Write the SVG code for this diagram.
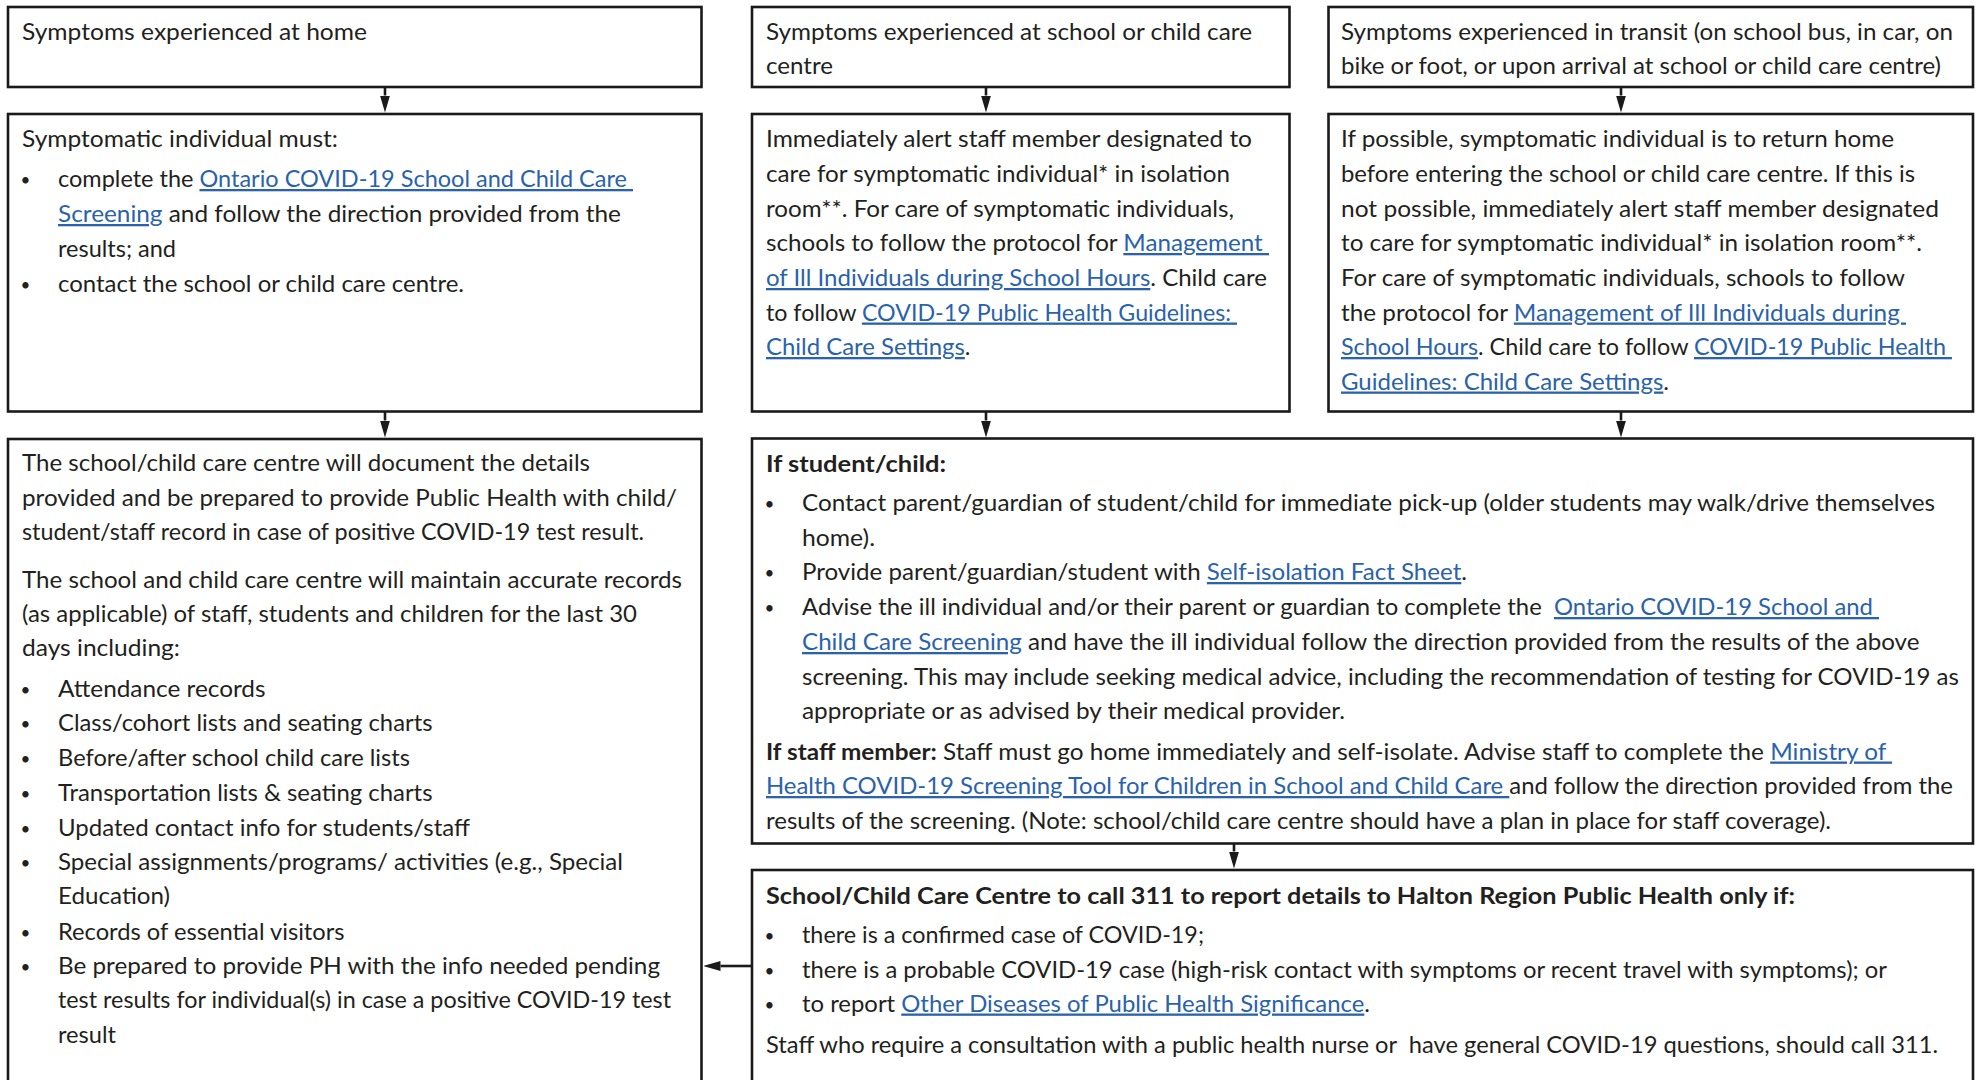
<svg xmlns="http://www.w3.org/2000/svg" width="1984" height="1080" viewBox="0 0 1984 1080">
<defs>
<style>
.box{fill:#ffffff;stroke:#1a1a1a;stroke-width:2.6}
.t{font-family:Lato,"Liberation Sans",sans-serif;font-size:23px;fill:#231f20;white-space:pre}
.l{fill:#2a62ac;text-decoration:underline}
.b{font-weight:bold}
.bu{font-family:Lato,"Liberation Sans",sans-serif;font-size:17px;fill:#231f20}
.c{fill:none;stroke:#1a1a1a;stroke-width:2.6}
</style>
<marker id="ah" viewBox="0 0 17 10" refX="0" refY="5" markerWidth="17" markerHeight="10" markerUnits="userSpaceOnUse" orient="auto">
<path d="M0,0 L17,5 L0,10 z" fill="#1a1a1a"/>
</marker>
</defs>
<rect width="1984" height="1080" fill="#ffffff"/>

<g id="connectors">
<path class="c" d="M385 87 V95.5" marker-end="url(#ah)"/>
<path class="c" d="M986 87 V95.5" marker-end="url(#ah)"/>
<path class="c" d="M1621 87 V95.5" marker-end="url(#ah)"/>
<path class="c" d="M385 411.5 V420.5" marker-end="url(#ah)"/>
<path class="c" d="M986 411.5 V420.5" marker-end="url(#ah)"/>
<path class="c" d="M1621 411.5 V420.5" marker-end="url(#ah)"/>
<path class="c" d="M1234 843.5 V851.5" marker-end="url(#ah)"/>
<path class="c" d="M752 966 H720.5" marker-end="url(#ah)"/>
</g>

<g id="home-header">
<rect class="box" x="8" y="7" width="693.5" height="80"/>
<text class="t" x="22" y="40" textLength="345" lengthAdjust="spacingAndGlyphs">Symptoms experienced at home</text>
</g>

<g id="school-header">
<rect class="box" x="752" y="7" width="537.5" height="80"/>
<text class="t" x="766" y="40" textLength="486" lengthAdjust="spacingAndGlyphs">Symptoms experienced at school or child care</text>
<text class="t" x="766" y="74" textLength="67" lengthAdjust="spacingAndGlyphs">centre</text>
</g>

<g id="transit-header">
<rect class="box" x="1328.5" y="7" width="644.5" height="80"/>
<text class="t" x="1341" y="40" textLength="612" lengthAdjust="spacingAndGlyphs">Symptoms experienced in transit (on school bus, in car, on</text>
<text class="t" x="1341" y="74" textLength="600" lengthAdjust="spacingAndGlyphs">bike or foot, or upon arrival at school or child care centre)</text>
</g>

<g id="home-action">
<rect class="box" x="8" y="114" width="693.5" height="297.5"/>
<text class="t" x="22" y="147" textLength="316" lengthAdjust="spacingAndGlyphs">Symptomatic individual must:</text>
<text class="bu" x="25.5" y="186" text-anchor="middle">•</text>
<text class="t" x="58" y="187" textLength="575" lengthAdjust="spacingAndGlyphs">complete the <tspan class="l">Ontario COVID-19 School and Child Care </tspan></text>
<text class="t" x="58" y="222" textLength="563" lengthAdjust="spacingAndGlyphs"><tspan class="l">Screening</tspan> and follow the direction provided from the</text>
<text class="t" x="58" y="257" textLength="118" lengthAdjust="spacingAndGlyphs">results; and</text>
<text class="bu" x="25.5" y="291" text-anchor="middle">•</text>
<text class="t" x="58" y="292" textLength="406" lengthAdjust="spacingAndGlyphs">contact the school or child care centre.</text>
</g>

<g id="school-action">
<rect class="box" x="752" y="114" width="537.5" height="297.5"/>
<text class="t" x="766" y="147" textLength="486" lengthAdjust="spacingAndGlyphs">Immediately alert staff member designated to</text>
<text class="t" x="766" y="181.5" textLength="464" lengthAdjust="spacingAndGlyphs">care for symptomatic individual* in isolation</text>
<text class="t" x="766" y="216.5" textLength="468" lengthAdjust="spacingAndGlyphs">room**. For care of symptomatic individuals,</text>
<text class="t" x="766" y="251" textLength="503" lengthAdjust="spacingAndGlyphs">schools to follow the protocol for <tspan class="l">Management </tspan></text>
<text class="t" x="766" y="286" textLength="501" lengthAdjust="spacingAndGlyphs"><tspan class="l">of Ill Individuals during School Hours</tspan>. Child care</text>
<text class="t" x="766" y="320.5" textLength="471" lengthAdjust="spacingAndGlyphs">to follow <tspan class="l">COVID-19 Public Health Guidelines: </tspan></text>
<text class="t" x="766" y="355" textLength="204.5" lengthAdjust="spacingAndGlyphs"><tspan class="l">Child Care Settings</tspan>.</text>
</g>

<g id="transit-action">
<rect class="box" x="1328.5" y="114" width="644.5" height="297.5"/>
<text class="t" x="1341" y="147" textLength="553" lengthAdjust="spacingAndGlyphs">If possible, symptomatic individual is to return home</text>
<text class="t" x="1341" y="181.5" textLength="574" lengthAdjust="spacingAndGlyphs">before entering the school or child care centre. If this is</text>
<text class="t" x="1341" y="216.5" textLength="598" lengthAdjust="spacingAndGlyphs">not possible, immediately alert staff member designated</text>
<text class="t" x="1341" y="251" textLength="581" lengthAdjust="spacingAndGlyphs">to care for symptomatic individual* in isolation room**.</text>
<text class="t" x="1341" y="286" textLength="564" lengthAdjust="spacingAndGlyphs">For care of symptomatic individuals, schools to follow</text>
<text class="t" x="1341" y="320.5" textLength="565" lengthAdjust="spacingAndGlyphs">the protocol for <tspan class="l">Management of Ill Individuals during </tspan></text>
<text class="t" x="1341" y="355" textLength="611" lengthAdjust="spacingAndGlyphs"><tspan class="l">School Hours</tspan>. Child care to follow <tspan class="l">COVID-19 Public Health </tspan></text>
<text class="t" x="1341" y="389.5" textLength="328" lengthAdjust="spacingAndGlyphs"><tspan class="l">Guidelines: Child Care Settings</tspan>.</text>
</g>

<g id="records">
<rect class="box" x="8" y="439" width="693.5" height="660"/>
<text class="t" x="22" y="471" textLength="568" lengthAdjust="spacingAndGlyphs">The school/child care centre will document the details</text>
<text class="t" x="22" y="505.5" textLength="655" lengthAdjust="spacingAndGlyphs">provided and be prepared to provide Public Health with child/</text>
<text class="t" x="22" y="540" textLength="622" lengthAdjust="spacingAndGlyphs">student/staff record in case of positive COVID-19 test result.</text>
<text class="t" x="22" y="588" textLength="660" lengthAdjust="spacingAndGlyphs">The school and child care centre will maintain accurate records</text>
<text class="t" x="22" y="621.5" textLength="615" lengthAdjust="spacingAndGlyphs">(as applicable) of staff, students and children for the last 30</text>
<text class="t" x="22" y="655.5" textLength="158" lengthAdjust="spacingAndGlyphs">days including:</text>
<text class="bu" x="25.5" y="696" text-anchor="middle">•</text>
<text class="t" x="58" y="697" textLength="207.5" lengthAdjust="spacingAndGlyphs">Attendance records</text>
<text class="bu" x="25.5" y="730" text-anchor="middle">•</text>
<text class="t" x="58" y="731" textLength="374.5" lengthAdjust="spacingAndGlyphs">Class/cohort lists and seating charts</text>
<text class="bu" x="25.5" y="765" text-anchor="middle">•</text>
<text class="t" x="58" y="766" textLength="352" lengthAdjust="spacingAndGlyphs">Before/after school child care lists</text>
<text class="bu" x="25.5" y="799.5" text-anchor="middle">•</text>
<text class="t" x="58" y="800.5" textLength="374.5" lengthAdjust="spacingAndGlyphs">Transportation lists &amp; seating charts</text>
<text class="bu" x="25.5" y="834.5" text-anchor="middle">•</text>
<text class="t" x="58" y="835.5" textLength="412" lengthAdjust="spacingAndGlyphs">Updated contact info for students/staff</text>
<text class="bu" x="25.5" y="868.5" text-anchor="middle">•</text>
<text class="t" x="58" y="869.5" textLength="565" lengthAdjust="spacingAndGlyphs">Special assignments/programs/ activities (e.g., Special</text>
<text class="t" x="58" y="903.5" textLength="112" lengthAdjust="spacingAndGlyphs">Education)</text>
<text class="bu" x="25.5" y="938.5" text-anchor="middle">•</text>
<text class="t" x="58" y="939.5" textLength="286.5" lengthAdjust="spacingAndGlyphs">Records of essential visitors</text>
<text class="bu" x="25.5" y="973" text-anchor="middle">•</text>
<text class="t" x="58" y="974" textLength="602" lengthAdjust="spacingAndGlyphs">Be prepared to provide PH with the info needed pending</text>
<text class="t" x="58" y="1008" textLength="613" lengthAdjust="spacingAndGlyphs">test results for individual(s) in case a positive COVID-19 test</text>
<text class="t" x="58" y="1043" textLength="58" lengthAdjust="spacingAndGlyphs">result</text>
</g>

<g id="student-staff">
<rect class="box" x="752" y="438.5" width="1221" height="405"/>
<text class="t b" x="766" y="471.5" textLength="180" lengthAdjust="spacingAndGlyphs">If student/child:</text>
<text class="bu" x="769.5" y="509.5" text-anchor="middle">•</text>
<text class="t" x="802" y="510.5" textLength="1133" lengthAdjust="spacingAndGlyphs">Contact parent/guardian of student/child for immediate pick-up (older students may walk/drive themselves</text>
<text class="t" x="802" y="545.5" textLength="73" lengthAdjust="spacingAndGlyphs">home).</text>
<text class="bu" x="769.5" y="579" text-anchor="middle">•</text>
<text class="t" x="802" y="580" textLength="665" lengthAdjust="spacingAndGlyphs">Provide parent/guardian/student with <tspan class="l">Self-isolation Fact Sheet</tspan>.</text>
<text class="bu" x="769.5" y="614" text-anchor="middle">•</text>
<text class="t" x="802" y="615" textLength="1077" lengthAdjust="spacingAndGlyphs">Advise the ill individual and/or their parent or guardian to complete the  <tspan class="l">Ontario COVID-19 School and </tspan></text>
<text class="t" x="802" y="650" textLength="1117.5" lengthAdjust="spacingAndGlyphs"><tspan class="l">Child Care Screening</tspan> and have the ill individual follow the direction provided from the results of the above</text>
<text class="t" x="802" y="684.5" textLength="1157" lengthAdjust="spacingAndGlyphs">screening. This may include seeking medical advice, including the recommendation of testing for COVID-19 as</text>
<text class="t" x="802" y="718.5" textLength="543" lengthAdjust="spacingAndGlyphs">appropriate or as advised by their medical provider.</text>
<text class="t" x="766" y="759.5" textLength="1126" lengthAdjust="spacingAndGlyphs"><tspan class="b">If staff member:</tspan> Staff must go home immediately and self-isolate. Advise staff to complete the <tspan class="l">Ministry of </tspan></text>
<text class="t" x="766" y="794" textLength="1187" lengthAdjust="spacingAndGlyphs"><tspan class="l">Health COVID-19 Screening Tool for Children in School and Child Care </tspan>and follow the direction provided from the</text>
<text class="t" x="766" y="828.5" textLength="1065" lengthAdjust="spacingAndGlyphs">results of the screening. (Note: school/child care centre should have a plan in place for staff coverage).</text>
</g>

<g id="report-311">
<rect class="box" x="752" y="870" width="1221" height="230"/>
<text class="t b" x="766" y="903.5" textLength="1029" lengthAdjust="spacingAndGlyphs">School/Child Care Centre to call 311 to report details to Halton Region Public Health only if:</text>
<text class="bu" x="769.5" y="942" text-anchor="middle">•</text>
<text class="t" x="802" y="943" textLength="402" lengthAdjust="spacingAndGlyphs">there is a confirmed case of COVID-19;</text>
<text class="bu" x="769.5" y="976.5" text-anchor="middle">•</text>
<text class="t" x="802" y="977.5" textLength="1085" lengthAdjust="spacingAndGlyphs">there is a probable COVID-19 case (high-risk contact with symptoms or recent travel with symptoms); or</text>
<text class="bu" x="769.5" y="1010.5" text-anchor="middle">•</text>
<text class="t" x="802" y="1011.5" textLength="568" lengthAdjust="spacingAndGlyphs">to report <tspan class="l">Other Diseases of Public Health Significance</tspan>.</text>
<text class="t" x="766" y="1052.5" textLength="1172" lengthAdjust="spacingAndGlyphs">Staff who require a consultation with a public health nurse or  have general COVID-19 questions, should call 311.</text>
</g>
</svg>
